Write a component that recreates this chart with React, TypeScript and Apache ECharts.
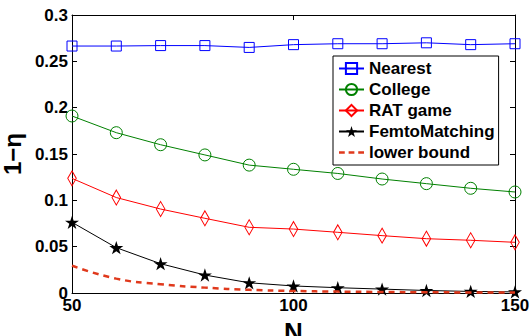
import React, { useEffect, useRef } from "react";
import * as echarts from "echarts";

const nValues = [50, 60, 70, 80, 90, 100, 110, 120, 130, 140, 150];
const nearest = [0.2665, 0.2665, 0.267, 0.267, 0.265, 0.268, 0.269, 0.269, 0.270, 0.268, 0.269];
const college = [0.191, 0.173, 0.160, 0.149, 0.138, 0.1335, 0.129, 0.123, 0.118, 0.113, 0.109];
const ratGame = [0.1237, 0.103, 0.0906, 0.0806, 0.0709, 0.069, 0.0655, 0.0619, 0.0586, 0.0569, 0.0547];
const femto = [0.0763, 0.0489, 0.0316, 0.0194, 0.011, 0.0076, 0.0057, 0.0042, 0.0027, 0.0017, 0.0012];
const lowerBound = [0.0295, 0.0155, 0.0095, 0.0058, 0.0034, 0.0022, 0.0015, 0.0011, 0.0008, 0.0006, 0.0005];
const seriesNames = ["Nearest", "College", "RAT game", "FemtoMatching", "lower bound"];
const xTicks = { min: 50, max: 150, interval: 50 };
const yTicks = { min: 0, max: 0.3, interval: 0.05 };

const FONT = "'Liberation Sans', Arial, Helvetica, sans-serif";
const pairs = (ys: number[]) => nValues.map((x, i) => [x, ys[i]]);

const squarePath = "path://M0,0H10V10H0Z";
const circlePath = "path://M0,5A5,5,0,1,1,10,5A5,5,0,1,1,0,5Z";
const diamondPath = "path://M5,0L10,7L5,14L0,7Z";
const starPath =
  "path://M50,0L61.2,34.5L97.6,34.5L68.2,55.9L79.4,90.5L50,69.1L20.6,90.5L31.8,55.9L2.4,34.5L38.8,34.5Z";
const dashIcon = "path://M0,0H6V2.5H0Z M10,0H16V2.5H10Z M20,0H26V2.5H20Z";

export default function App() {
  const ref = useRef<HTMLDivElement>(null);
  useEffect(() => {
    if (!ref.current) return;
    const chart = echarts.init(ref.current, undefined, { renderer: "svg" });
    const axisLine = { show: true, onZero: false, lineStyle: { color: "#000", width: 1 } };
    const axisTick = { show: true, inside: true, length: 5, lineStyle: { color: "#000", width: 1 } };
    const label = { fontSize: 17, fontWeight: "bold", color: "#000", fontFamily: FONT };
    const mk = (
      name: string,
      ys: number[],
      color: string,
      symbol: string,
      size: number | number[],
      filled: boolean
    ) => ({
      name,
      type: "line",
      data: pairs(ys),
      symbol,
      symbolSize: size,
      symbolKeepAspect: true,
      showSymbol: true,
      lineStyle: { color, width: 1 },
      itemStyle: filled
        ? { color, borderColor: color, borderWidth: 0 }
        : { color: "rgba(0,0,0,0)", borderColor: color, borderWidth: 1 },
      z: 2,
    });
    chart.setOption({
      animation: false,
      backgroundColor: "#fff",
      grid: { left: 72, right: 16, top: 15, bottom: 43, containLabel: false, outerBoundsMode: "none" },
      legend: {
        orient: "vertical",
        left: 333,
        top: 56,
        padding: [4, 4, 4, 5],
        itemGap: 4,
        itemWidth: 25,
        itemHeight: 14,
        borderColor: "#000",
        borderWidth: 1,
        backgroundColor: "#fff",
        data: [
          "Nearest",
          "College",
          "RAT game",
          "FemtoMatching",
          { name: seriesNames[4], icon: dashIcon, itemStyle: { color: "#e0391c" } },
        ],
        textStyle: { fontSize: 17, fontWeight: "bold", color: "#000", fontFamily: FONT, lineHeight: 17 },
      },
      xAxis: [
        {
          type: "value",
          position: "bottom",
          ...xTicks,
          axisLine,
          axisTick,
          splitLine: { show: false },
          axisLabel: { ...label, margin: 4 },
          name: "N",
          nameLocation: "middle",
          nameGap: 18,
          nameTextStyle: { fontSize: 26, fontWeight: "bold", color: "#000", fontFamily: FONT },
        },
        {
          type: "value",
          position: "top",
          ...xTicks,
          axisLine,
          axisTick,
          splitLine: { show: false },
          axisLabel: { show: false },
        },
      ],
      yAxis: [
        {
          type: "value",
          position: "left",
          ...yTicks,
          axisLine,
          axisTick,
          splitLine: { show: false },
          axisLabel: { ...label, margin: 4 },
          name: "1\u2212\u03b7",
          nameLocation: "middle",
          nameGap: 43,
          nameRotate: 90,
          nameTextStyle: { fontSize: 24, fontWeight: "bold", color: "#000", fontFamily: FONT },
        },
        {
          type: "value",
          position: "right",
          ...yTicks,
          axisLine,
          axisTick,
          splitLine: { show: false },
          axisLabel: { show: false },
        },
      ],
      series: [
        mk("Nearest", nearest, "#0000ff", squarePath, 10, false),
        mk("College", college, "#008000", circlePath, 12, false),
        mk("RAT game", ratGame, "#ff0000", diamondPath, [12, 15], false),
        mk("FemtoMatching", femto, "#000000", starPath, 14, true),
        {
          name: "lower bound",
          type: "line",
          data: pairs(lowerBound),
          symbol: "none",
          showSymbol: false,
          smooth: true,
          lineStyle: { color: "#e0391c", width: 2.5, type: [6, 5] },
          itemStyle: { color: "#e0391c" },
          z: 3,
        },
      ],
    });
    return () => chart.dispose();
  }, []);
  return (
    <div
      ref={ref}
      style={{ position: "absolute", left: 0, top: 0, width: 531, height: 336 }}
    />
  );
}
